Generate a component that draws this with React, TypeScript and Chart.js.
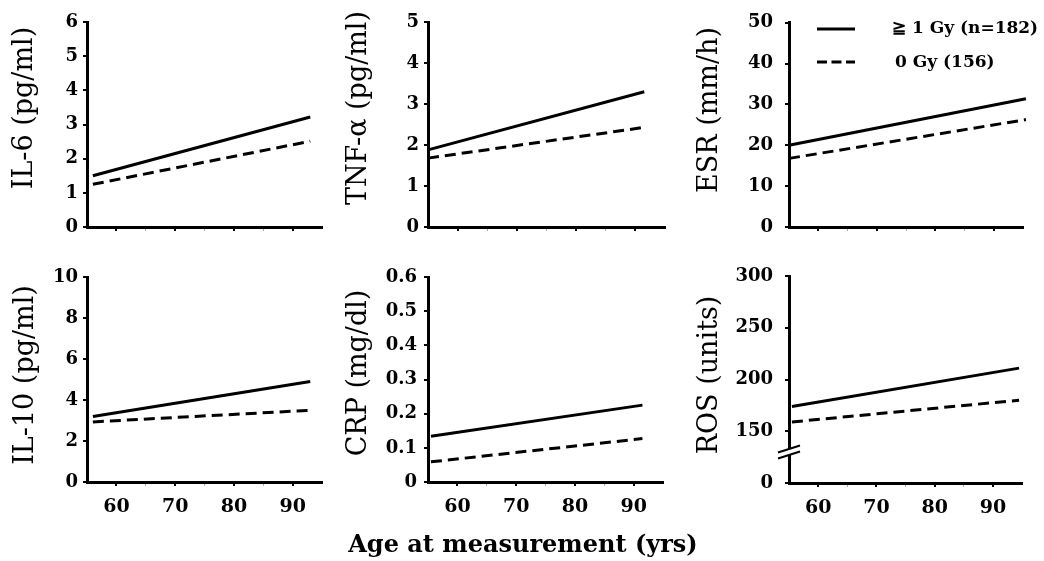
import React, { useEffect, useRef } from 'react';
import { Chart, registerables } from 'chart.js';

Chart.register(...registerables);

const PAGE_W = 1044;
const PAGE_H = 561;
const YW = 60;
const XH = 40;

// ---- data ----
const xTickValues = [60, 65, 70, 75, 80, 85, 90];
const xLabelledTicks = [60, 70, 80, 90];
const seriesLabels = ['≧ 1 Gy (n=182)', '0 Gy (156)'];
const xAxisTitle = 'Age at measurement (yrs)';

const il6Ages = [56, 93];
const il6High = [1.5, 3.22];
const il6Zero = [1.25, 2.51];
const il6Ticks = [0, 1, 2, 3, 4, 5, 6];

const tnfAges = [55, 91.5];
const tnfHigh = [1.88, 3.3];
const tnfZero = [1.68, 2.43];
const tnfTicks = [0, 1, 2, 3, 4, 5];

const esrAges = [55, 95.5];
const esrHigh = [20, 31.4];
const esrZero = [16.8, 26.3];
const esrTicks = [0, 10, 20, 30, 40, 50];

const il10Ages = [56, 93];
const il10High = [3.2, 4.9];
const il10Zero = [2.93, 3.5];
const il10Ticks = [0, 2, 4, 6, 8, 10];

const crpAges = [55.5, 91.5];
const crpHigh = [0.134, 0.225];
const crpZero = [0.059, 0.127];
const crpTicks = [0, 0.1, 0.2, 0.3, 0.4, 0.5, 0.6];

// ROS axis is broken: the bottom tick (drawn at 100) is labelled 0
const rosAges = [55.5, 94.5];
const rosHigh = [174, 211];
const rosZero = [159, 180];
const rosTicks = [100, 150, 200, 250, 300];
const rosBreakValue = 130;

type Panel = {
  title: string;
  ages: number[];
  high: number[];
  zero: number[];
  yTicks: number[];
  fmt: (v: number) => string;
  box: { left: number; right: number; top: number; bottom: number };
  titleX: number;
  titleY: number;
  tickPad: number;
  showX: boolean;
  legend?: boolean;
  brk?: number;
};

const plain = (v: number) => String(v);

const panels: Panel[] = [
  { title: 'IL-6 (pg/ml)', ages: il6Ages, high: il6High, zero: il6Zero, yTicks: il6Ticks, fmt: plain,
    box: { left: 87, right: 322, top: 22, bottom: 227 }, titleX: 25, titleY: 108, tickPad: 5, showX: false },
  { title: 'TNF-α (pg/ml)', ages: tnfAges, high: tnfHigh, zero: tnfZero, yTicks: tnfTicks, fmt: plain,
    box: { left: 428, right: 665, top: 22, bottom: 227 }, titleX: 359, titleY: 108, tickPad: 5, showX: false },
  { title: 'ESR (mm/h)', ages: esrAges, high: esrHigh, zero: esrZero, yTicks: esrTicks, fmt: plain,
    box: { left: 789, right: 1023, top: 22, bottom: 227 }, titleX: 710, titleY: 110, tickPad: 12, showX: false, legend: true },
  { title: 'IL-10 (pg/ml)', ages: il10Ages, high: il10High, zero: il10Zero, yTicks: il10Ticks, fmt: plain,
    box: { left: 87, right: 322, top: 277, bottom: 482 }, titleX: 26, titleY: 375, tickPad: 5, showX: true },
  { title: 'CRP (mg/dl)', ages: crpAges, high: crpHigh, zero: crpZero, yTicks: crpTicks,
    fmt: (v: number) => (v === 0 ? '0' : v.toFixed(1)),
    box: { left: 428, right: 663, top: 277, bottom: 482 }, titleX: 359, titleY: 373, tickPad: 7, showX: true },
  { title: 'ROS (units)', ages: rosAges, high: rosHigh, zero: rosZero, yTicks: rosTicks,
    fmt: (v: number) => (v === 100 ? '0' : String(v)),
    box: { left: 789, right: 1022, top: 276, bottom: 483 }, titleX: 710, titleY: 375, tickPad: 12, showX: true, brk: rosBreakValue },
];

const SERIF = '"DejaVu Serif", serif';

function makeChart(canvas: HTMLCanvasElement, p: Panel) {
  const yMin = p.yTicks[0];
  const yMax = p.yTicks[p.yTicks.length - 1];
  const isMajor = (v: number) => xLabelledTicks.includes(v);

  const decor = {
    id: 'decor_' + p.title,
    afterDraw(chart: any) {
      const ctx = chart.ctx as CanvasRenderingContext2D;
      // y-axis title
      ctx.save();
      ctx.translate(p.titleX, p.titleY);
      ctx.rotate(-Math.PI / 2);
      ctx.fillStyle = '#000';
      ctx.font = `27px ${SERIF}`;
      ctx.textAlign = 'center';
      ctx.textBaseline = 'middle';
      ctx.fillText(p.title, 0, 0);
      ctx.restore();

      // axis break
      if (p.brk !== undefined) {
        const ys = chart.scales.y;
        const cy = ys.getPixelForValue(p.brk);
        const cx = chart.chartArea.left;
        ctx.save();
        ctx.fillStyle = '#fff';
        ctx.beginPath();
        ctx.moveTo(cx - 4, cy - 3 + 1.3);
        ctx.lineTo(cx + 4, cy - 3 - 1.3);
        ctx.lineTo(cx + 4, cy + 3 - 1.3);
        ctx.lineTo(cx - 4, cy + 3 + 1.3);
        ctx.closePath();
        ctx.fill();
        ctx.strokeStyle = '#000';
        ctx.lineWidth = 2;
        for (const dy of [-3, 3]) {
          ctx.beginPath();
          ctx.moveTo(cx - 11, cy + dy + 3.5);
          ctx.lineTo(cx + 11, cy + dy - 3.5);
          ctx.stroke();
        }
        ctx.restore();
      }

      // legend
      if (p.legend) {
        ctx.save();
        ctx.strokeStyle = '#000';
        ctx.lineWidth = 3;
        ctx.beginPath();
        ctx.moveTo(817, 29);
        ctx.lineTo(855, 29);
        ctx.stroke();
        ctx.setLineDash([10, 4.5]);
        ctx.beginPath();
        ctx.moveTo(817, 62);
        ctx.lineTo(855, 62);
        ctx.stroke();
        ctx.setLineDash([]);
        ctx.fillStyle = '#000';
        ctx.font = `bold 17px ${SERIF}`;
        ctx.textAlign = 'left';
        ctx.textBaseline = 'middle';
        ctx.fillText(seriesLabels[0], 892, 29);
        ctx.fillText(seriesLabels[1], 895, 63);
        ctx.restore();
      }
    },
  };

  return new Chart(canvas, {
    type: 'line',
    data: {
      datasets: [
        {
          label: seriesLabels[0],
          data: p.ages.map((a, i) => ({ x: a, y: p.high[i] })),
          borderColor: '#000',
          borderWidth: 3,
          pointRadius: 0,
          fill: false,
          tension: 0,
          clip: false as any,
        },
        {
          label: seriesLabels[1],
          data: p.ages.map((a, i) => ({ x: a, y: p.zero[i] })),
          borderColor: '#000',
          borderWidth: 3,
          borderDash: [11, 6],
          pointRadius: 0,
          fill: false,
          tension: 0,
          clip: false as any,
        },
      ],
    },
    options: {
      animation: false,
      responsive: false,
      events: [],
      layout: {
        autoPadding: false,
        padding: {
          left: p.box.left - YW,
          right: PAGE_W - p.box.right,
          top: p.box.top,
          bottom: PAGE_H - p.box.bottom - XH,
        },
      },
      plugins: {
        legend: { display: false },
        tooltip: { enabled: false },
        title: { display: false },
      },
      scales: {
        x: {
          type: 'linear',
          min: 55,
          max: 95,
          afterBuildTicks: (s: any) => {
            s.ticks = xTickValues.map((v) => ({ value: v }));
          },
          afterFit: (s: any) => {
            s.height = XH;
          },
          grid: {
            drawOnChartArea: false,
            drawTicks: true,
            tickLength: 4,
            color: (c: any) => (c.tick && isMajor(c.tick.value) ? '#000' : '#aaa'),
            lineWidth: (c: any) => (c.tick && isMajor(c.tick.value) ? 2 : 1),
          },
          border: { display: true, color: '#000', width: 3 },
          ticks: {
            display: p.showX,
            color: '#000',
            padding: 10,
            maxRotation: 0,
            autoSkip: false,
            callback: (v: any) => (isMajor(Number(v)) ? String(v) : ''),
            font: { family: SERIF, weight: 'bold', size: 19 },
          },
        },
        y: {
          type: 'linear',
          min: yMin,
          max: yMax,
          afterBuildTicks: (s: any) => {
            s.ticks = p.yTicks.map((v) => ({ value: v }));
          },
          afterFit: (s: any) => {
            s.width = YW;
          },
          grid: { drawOnChartArea: false, drawTicks: true, tickLength: 4, color: '#000', lineWidth: 2 },
          border: { display: true, color: '#000', width: 3 },
          ticks: {
            color: '#000',
            padding: p.tickPad,
            autoSkip: false,
            callback: (v: any) => p.fmt(Number(v)),
            font: { family: SERIF, weight: 'bold', size: 18 },
          },
        },
      },
    },
    plugins: [decor],
  } as any);
}

function PanelChart({ panel }: { panel: Panel }) {
  const ref = useRef<HTMLCanvasElement | null>(null);
  useEffect(() => {
    if (!ref.current) return;
    const chart = makeChart(ref.current, panel);
    return () => chart.destroy();
  }, [panel]);
  return (
    <canvas
      ref={ref}
      width={PAGE_W}
      height={PAGE_H}
      style={{ position: 'absolute', left: 0, top: 0, width: PAGE_W, height: PAGE_H }}
    />
  );
}

export default function App() {
  return (
    <div
      style={{
        position: 'absolute',
        left: 0,
        top: 0,
        width: PAGE_W,
        height: PAGE_H,
        background: '#fff',
        overflow: 'hidden',
      }}
    >
      {panels.map((p) => (
        <PanelChart key={p.title} panel={p} />
      ))}
      <div
        style={{
          position: 'absolute',
          left: 0,
          top: 529,
          width: PAGE_W,
          height: 30,
          lineHeight: '30px',
          textAlign: 'center',
          fontFamily: SERIF,
          fontWeight: 'bold',
          fontSize: 24,
          color: '#000',
          paddingLeft: 2,
          boxSizing: 'border-box',
        }}
      >
        {xAxisTitle}
      </div>
    </div>
  );
}
